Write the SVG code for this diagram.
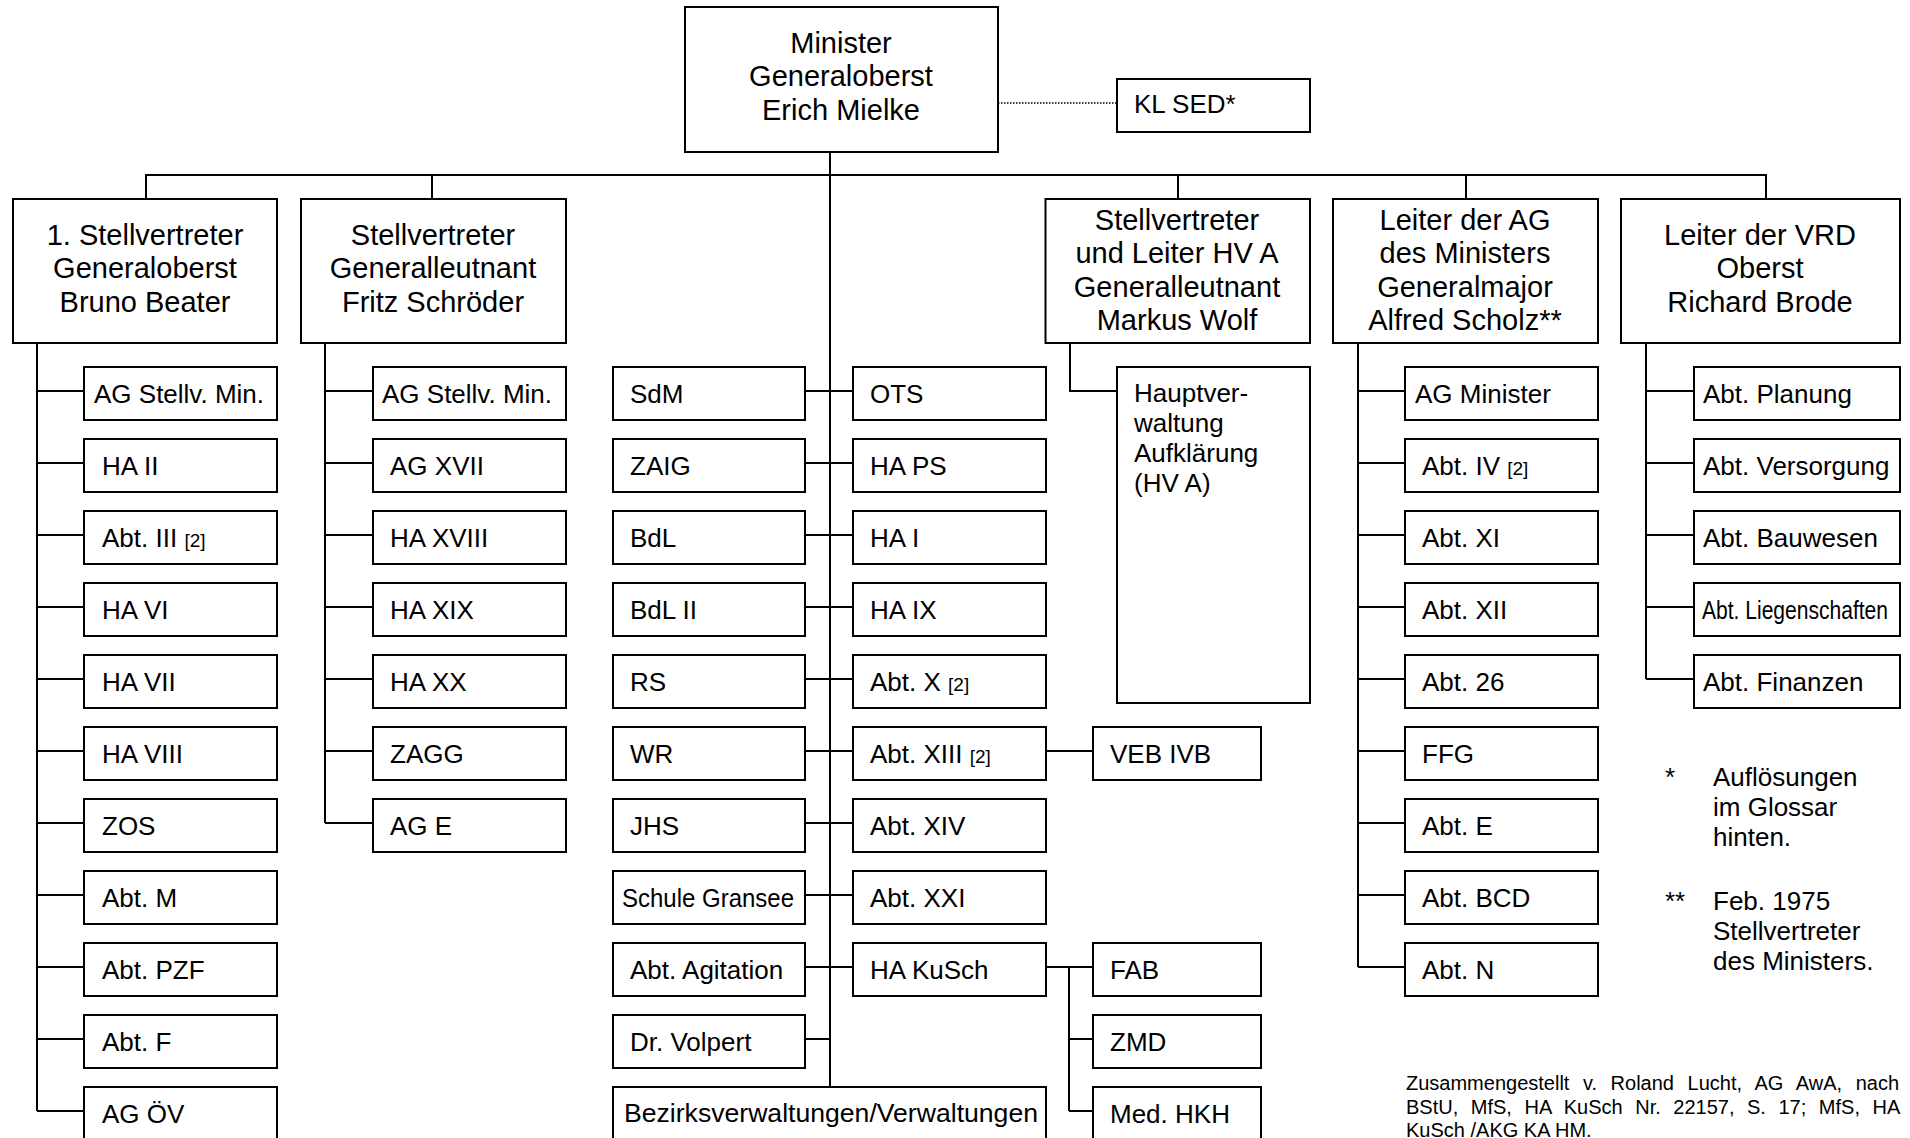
<svg xmlns="http://www.w3.org/2000/svg" width="1910" height="1138" viewBox="0 0 1910 1138">
<style>
rect{fill:#fff;stroke:#000;stroke-width:2}
text{font-family:"Liberation Sans",Arial,sans-serif;fill:#000}
.h{font-size:29px;text-anchor:middle}
.t{font-size:26px}
.sm{font-size:19px}
.src{font-size:20px}
#connectors path{fill:none;stroke:#000;stroke-width:2}
#connectors .dot{stroke-width:1.5;stroke-dasharray:1.5 1.5}
</style>
<rect x="0" y="0" width="1910" height="1138" style="stroke:none"/>
<g id="connectors">
<path class="dot" d="M998 103H1117"/>
<path d="M146 199V175H1766V199M432 175V199M1178 175V199M1466 175V199"/>
<path d="M830 152V1087"/>
<path d="M37 343V1111M37 391H84M37 463H84M37 535H84M37 607H84M37 679H84M37 751H84M37 823H84M37 895H84M37 967H84M37 1039H84M37 1111H84"/>
<path d="M325 343V823M325 391H373M325 463H373M325 535H373M325 607H373M325 679H373M325 751H373M325 823H373"/>
<path d="M805 391H853M805 463H853M805 535H853M805 607H853M805 679H853M805 751H853M805 823H853M805 895H853M805 967H853M805 1039H830"/>
<path d="M1046 751H1093"/>
<path d="M1046 967H1093M1069 967V1111M1069 1039H1093M1069 1111H1093"/>
<path d="M1070 343V391H1117"/>
<path d="M1358 343V967M1358 391H1405M1358 463H1405M1358 535H1405M1358 607H1405M1358 679H1405M1358 751H1405M1358 823H1405M1358 895H1405M1358 967H1405"/>
<path d="M1646 343V679M1646 391H1694M1646 463H1694M1646 535H1694M1646 607H1694M1646 679H1694"/>
</g>

<g id="minister"><rect x="685" y="7" width="313" height="145"/><text class="h" x="841" y="53">Minister</text><text class="h" x="841" y="86">Generaloberst</text><text class="h" x="841" y="120">Erich Mielke</text></g>
<g id="kl-sed"><rect x="1117" y="79" width="193" height="53"/><text class="t" x="1134" y="113">KL SED*</text></g>

<g id="stv1"><rect x="13" y="199" width="264" height="144"/><text class="h" x="145" y="245">1. Stellvertreter</text><text class="h" x="145" y="278">Generaloberst</text><text class="h" x="145" y="312">Bruno Beater</text></g>
<g id="stv2"><rect x="301" y="199" width="265" height="144"/><text class="h" x="433" y="245">Stellvertreter</text><text class="h" x="433" y="278">Generalleutnant</text><text class="h" x="433" y="312">Fritz Schröder</text></g>
<g id="stv-hva"><rect x="1045.5" y="199" width="264.5" height="144"/><text class="h" x="1177" y="230">Stellvertreter</text><text class="h" x="1177" y="263">und Leiter HV A</text><text class="h" x="1177" y="297">Generalleutnant</text><text class="h" x="1177" y="330">Markus Wolf</text></g>
<g id="leiter-ag"><rect x="1333" y="199" width="265" height="144"/><text class="h" x="1465" y="230">Leiter der AG</text><text class="h" x="1465" y="263">des Ministers</text><text class="h" x="1465" y="297">Generalmajor</text><text class="h" x="1465" y="330">Alfred Scholz**</text></g>
<g id="leiter-vrd"><rect x="1621" y="199" width="279" height="144"/><text class="h" x="1760" y="245">Leiter der VRD</text><text class="h" x="1760" y="278">Oberst</text><text class="h" x="1760" y="312">Richard Brode</text></g>

<g id="a1"><rect x="84" y="367" width="193" height="53"/><text class="t" x="94" y="403">AG Stellv. Min.</text></g>
<g id="a2"><rect x="84" y="439" width="193" height="53"/><text class="t" x="102" y="475">HA II</text></g>
<g id="a3"><rect x="84" y="511" width="193" height="53"/><text class="t" x="102" y="547">Abt. III <tspan class="sm">[2]</tspan></text></g>
<g id="a4"><rect x="84" y="583" width="193" height="53"/><text class="t" x="102" y="619">HA VI</text></g>
<g id="a5"><rect x="84" y="655" width="193" height="53"/><text class="t" x="102" y="691">HA VII</text></g>
<g id="a6"><rect x="84" y="727" width="193" height="53"/><text class="t" x="102" y="763">HA VIII</text></g>
<g id="a7"><rect x="84" y="799" width="193" height="53"/><text class="t" x="102" y="835">ZOS</text></g>
<g id="a8"><rect x="84" y="871" width="193" height="53"/><text class="t" x="102" y="907">Abt. M</text></g>
<g id="a9"><rect x="84" y="943" width="193" height="53"/><text class="t" x="102" y="979">Abt. PZF</text></g>
<g id="a10"><rect x="84" y="1015" width="193" height="53"/><text class="t" x="102" y="1051">Abt. F</text></g>
<g id="a11"><rect x="84" y="1087" width="193" height="53"/><text class="t" x="102" y="1123">AG ÖV</text></g>

<g id="b1"><rect x="373" y="367" width="193" height="53"/><text class="t" x="382" y="403">AG Stellv. Min.</text></g>
<g id="b2"><rect x="373" y="439" width="193" height="53"/><text class="t" x="390" y="475">AG XVII</text></g>
<g id="b3"><rect x="373" y="511" width="193" height="53"/><text class="t" x="390" y="547">HA XVIII</text></g>
<g id="b4"><rect x="373" y="583" width="193" height="53"/><text class="t" x="390" y="619">HA XIX</text></g>
<g id="b5"><rect x="373" y="655" width="193" height="53"/><text class="t" x="390" y="691">HA XX</text></g>
<g id="b6"><rect x="373" y="727" width="193" height="53"/><text class="t" x="390" y="763">ZAGG</text></g>
<g id="b7"><rect x="373" y="799" width="193" height="53"/><text class="t" x="390" y="835">AG E</text></g>

<g id="c1"><rect x="613" y="367" width="192" height="53"/><text class="t" x="630" y="403">SdM</text></g>
<g id="c2"><rect x="613" y="439" width="192" height="53"/><text class="t" x="630" y="475">ZAIG</text></g>
<g id="c3"><rect x="613" y="511" width="192" height="53"/><text class="t" x="630" y="547">BdL</text></g>
<g id="c4"><rect x="613" y="583" width="192" height="53"/><text class="t" x="630" y="619">BdL II</text></g>
<g id="c5"><rect x="613" y="655" width="192" height="53"/><text class="t" x="630" y="691">RS</text></g>
<g id="c6"><rect x="613" y="727" width="192" height="53"/><text class="t" x="630" y="763">WR</text></g>
<g id="c7"><rect x="613" y="799" width="192" height="53"/><text class="t" x="630" y="835">JHS</text></g>
<g id="c8"><rect x="613" y="871" width="192" height="53"/><text class="t" x="622" y="907" textLength="172" lengthAdjust="spacingAndGlyphs">Schule Gransee</text></g>
<g id="c9"><rect x="613" y="943" width="192" height="53"/><text class="t" x="630" y="979">Abt. Agitation</text></g>
<g id="c10"><rect x="613" y="1015" width="192" height="53"/><text class="t" x="630" y="1051">Dr. Volpert</text></g>
<g id="c11"><rect x="613" y="1087" width="433" height="60"/><text class="t" x="624" y="1122" textLength="414" lengthAdjust="spacingAndGlyphs">Bezirksverwaltungen/Verwaltungen</text></g>

<g id="d1"><rect x="853" y="367" width="193" height="53"/><text class="t" x="870" y="403">OTS</text></g>
<g id="d2"><rect x="853" y="439" width="193" height="53"/><text class="t" x="870" y="475">HA PS</text></g>
<g id="d3"><rect x="853" y="511" width="193" height="53"/><text class="t" x="870" y="547">HA I</text></g>
<g id="d4"><rect x="853" y="583" width="193" height="53"/><text class="t" x="870" y="619">HA IX</text></g>
<g id="d5"><rect x="853" y="655" width="193" height="53"/><text class="t" x="870" y="691">Abt. X <tspan class="sm">[2]</tspan></text></g>
<g id="d6"><rect x="853" y="727" width="193" height="53"/><text class="t" x="870" y="763">Abt. XIII <tspan class="sm">[2]</tspan></text></g>
<g id="d7"><rect x="853" y="799" width="193" height="53"/><text class="t" x="870" y="835">Abt. XIV</text></g>
<g id="d8"><rect x="853" y="871" width="193" height="53"/><text class="t" x="870" y="907">Abt. XXI</text></g>
<g id="d9"><rect x="853" y="943" width="193" height="53"/><text class="t" x="870" y="979">HA KuSch</text></g>

<g id="e1"><rect x="1093" y="727" width="168" height="53"/><text class="t" x="1110" y="763">VEB IVB</text></g>
<g id="e2"><rect x="1093" y="943" width="168" height="53"/><text class="t" x="1110" y="979">FAB</text></g>
<g id="e3"><rect x="1093" y="1015" width="168" height="53"/><text class="t" x="1110" y="1051">ZMD</text></g>
<g id="e4"><rect x="1093" y="1087" width="168" height="53"/><text class="t" x="1110" y="1123">Med. HKH</text></g>

<g id="hva"><rect x="1117" y="367" width="193" height="336"/><text class="t" x="1134" y="402">Hauptver-</text><text class="t" x="1134" y="432">waltung</text><text class="t" x="1134" y="462">Aufklärung</text><text class="t" x="1134" y="492">(HV A)</text></g>

<g id="f1"><rect x="1405" y="367" width="193" height="53"/><text class="t" x="1415" y="403">AG Minister</text></g>
<g id="f2"><rect x="1405" y="439" width="193" height="53"/><text class="t" x="1422" y="475">Abt. IV <tspan class="sm">[2]</tspan></text></g>
<g id="f3"><rect x="1405" y="511" width="193" height="53"/><text class="t" x="1422" y="547">Abt. XI</text></g>
<g id="f4"><rect x="1405" y="583" width="193" height="53"/><text class="t" x="1422" y="619">Abt. XII</text></g>
<g id="f5"><rect x="1405" y="655" width="193" height="53"/><text class="t" x="1422" y="691">Abt. 26</text></g>
<g id="f6"><rect x="1405" y="727" width="193" height="53"/><text class="t" x="1422" y="763">FFG</text></g>
<g id="f7"><rect x="1405" y="799" width="193" height="53"/><text class="t" x="1422" y="835">Abt. E</text></g>
<g id="f8"><rect x="1405" y="871" width="193" height="53"/><text class="t" x="1422" y="907">Abt. BCD</text></g>
<g id="f9"><rect x="1405" y="943" width="193" height="53"/><text class="t" x="1422" y="979">Abt. N</text></g>

<g id="g1"><rect x="1694" y="367" width="206" height="53"/><text class="t" x="1703" y="403">Abt. Planung</text></g>
<g id="g2"><rect x="1694" y="439" width="206" height="53"/><text class="t" x="1703" y="475">Abt. Versorgung</text></g>
<g id="g3"><rect x="1694" y="511" width="206" height="53"/><text class="t" x="1703" y="547">Abt. Bauwesen</text></g>
<g id="g4"><rect x="1694" y="583" width="206" height="53"/><text class="t" x="1702" y="619" textLength="186" lengthAdjust="spacingAndGlyphs">Abt. Liegenschaften</text></g>
<g id="g5"><rect x="1694" y="655" width="206" height="53"/><text class="t" x="1703" y="691">Abt. Finanzen</text></g>

<g id="notes">
<text class="t" x="1665" y="786">*</text>
<text class="t" x="1713" y="786">Auflösungen</text>
<text class="t" x="1713" y="816">im Glossar</text>
<text class="t" x="1713" y="846">hinten.</text>
<text class="t" x="1665" y="910">**</text>
<text class="t" x="1713" y="910">Feb. 1975</text>
<text class="t" x="1713" y="940">Stellvertreter</text>
<text class="t" x="1713" y="970">des Ministers.</text>
<text class="src" x="1406" y="1090" word-spacing="8">Zusammengestellt v. Roland Lucht, AG AwA, nach</text>
<text class="src" x="1406" y="1114" word-spacing="7">BStU, MfS, HA KuSch Nr. 22157, S. 17; MfS, HA</text>
<text class="src" x="1406" y="1137">KuSch /AKG KA HM.</text>
</g>
</svg>
